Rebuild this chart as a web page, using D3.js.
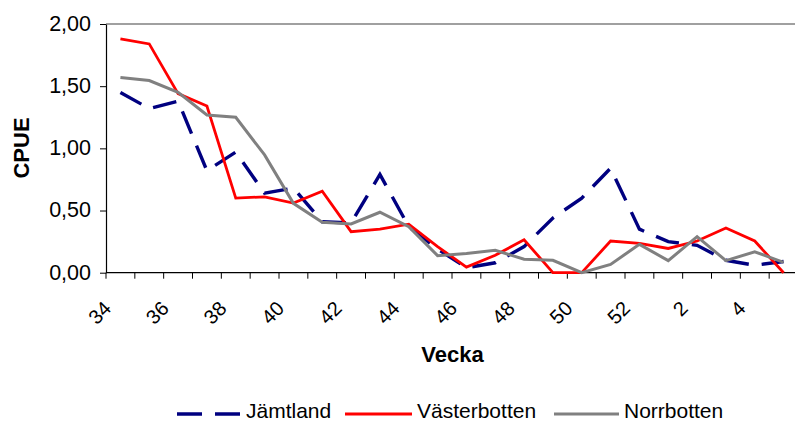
<!DOCTYPE html>
<html>
<head>
<meta charset="utf-8">
<script src="https://cdn.jsdelivr.net/npm/d3@7/dist/d3.min.js"></script>
<style>
  html, body { margin: 0; padding: 0; background: #fff; }
  svg { display: block; font-family: "Liberation Sans", Arial, sans-serif; }
</style>
</head>
<body>
<svg id="chart" width="795" height="423"></svg>
<script>
const weeks = ["34","35","36","37","38","39","40","41","42","43","44","45","46","47","48","49","50","51","52","1","2","3","4","5"];
const tickLabels = ["34","36","38","40","42","44","46","48","50","52","2","4"];
const yTicks = [0, 0.5, 1.0, 1.5, 2.0];
const seriesNames = ["Jämtland", "Västerbotten", "Norrbotten"];
const jamtland = [1.45,1.32,1.38,0.82,0.97,0.64,0.68,0.41,0.40,0.79,0.37,0.19,0.04,0.08,0.21,0.44,0.60,0.84,0.35,0.25,0.22,0.10,0.06,0.09];
const vasterbotten = [1.88,1.84,1.44,1.34,0.60,0.61,0.56,0.655,0.33,0.35,0.39,0.21,0.045,0.14,0.265,0,0,0.255,0.236,0.195,0.255,0.36,0.255,0];
const norrbotten = [1.57,1.545,1.45,1.268,1.25,0.947,0.558,0.405,0.392,0.486,0.37,0.137,0.155,0.18,0.108,0.10,0,0.067,0.228,0.097,0.29,0.097,0.168,0.083];

(function () {
const series = [
  {name: seriesNames[0], values: jamtland, color: "#000080", width: 3.4, dash: "24,13"},
  {name: seriesNames[1], values: vasterbotten, color: "#FF0000", width: 2.8, dash: null},
  {name: seriesNames[2], values: norrbotten, color: "#808080", width: 3, dash: null}
];

const svg = d3.select("#chart");
const pLeft = 106, pRight = 798, pTop = 24, pBottom = 272.7;

const x = d3.scaleBand().domain(weeks).range([pLeft, pRight]).padding(0);
const y = d3.scaleLinear().domain([0, 2]).range([pBottom, pTop]);
const fmt = v => d3.format(".2f")(v).replace(".", ",");

// top border
svg.append("line")
  .attr("x1", pLeft).attr("x2", pRight)
  .attr("y1", y(2)).attr("y2", y(2))
  .attr("stroke", "#808080").attr("stroke-width", 1.5);

// y axis
const yAxis = d3.axisLeft(y).tickValues(yTicks).tickFormat(fmt).tickSize(6).tickSizeOuter(0);
const gy = svg.append("g").attr("transform", `translate(${pLeft},0)`).call(yAxis);
gy.select(".domain").attr("stroke", "#000").attr("stroke-width", 1.2);
gy.selectAll(".tick line").attr("stroke", "#000");
gy.selectAll(".tick text").attr("font-size", 21.5).attr("fill", "#000").attr("dx", -6).attr("dy", "0.3em")
  .style("font-family", "'Liberation Sans', Arial, sans-serif");

// x axis line and boundary ticks
svg.append("line").attr("x1", pLeft).attr("x2", pRight).attr("y1", pBottom).attr("y2", pBottom)
  .attr("stroke", "#000").attr("stroke-width", 1.2);
const boundaries = weeks.map(w => x(w)).concat([x(weeks[weeks.length-1]) + x.bandwidth()]);
svg.append("g").selectAll("line").data(boundaries).join("line")
  .attr("x1", d => d).attr("x2", d => d)
  .attr("y1", pBottom).attr("y2", pBottom + 6)
  .attr("stroke", "#000").attr("stroke-width", 1);

// x tick labels (rotated)
svg.append("g").selectAll("text").data(tickLabels).join("text")
  .attr("transform", d => `translate(${x(d) + x.bandwidth()/2 - 8},${pBottom + 37}) rotate(-45)`)
  .attr("text-anchor", "end")
  .attr("font-size", 20)
  .attr("fill", "#000")
  .text(d => d);

// axis titles
svg.append("text").attr("x", 452.5).attr("y", 362).attr("text-anchor", "middle")
  .attr("font-size", 22).attr("font-weight", "bold").text("Vecka");
svg.append("text").attr("transform", `translate(29,148) rotate(-90)`).attr("text-anchor", "middle")
  .attr("font-size", 22).attr("font-weight", "bold").text("CPUE");

// lines
const line = d3.line()
  .x((d, i) => x(weeks[i]) + x.bandwidth()/2)
  .y(d => y(d));

series.forEach(s => {
  svg.append("path")
    .datum(s.values)
    .attr("d", line)
    .attr("fill", "none")
    .attr("stroke", s.color)
    .attr("stroke-width", s.width)
    .attr("stroke-linejoin", "miter")
    .attr("stroke-dasharray", s.dash);
});

// legend
const legendItems = [
  {x1: 177, x2: 240, tx: 246},
  {x1: 345, x2: 412, tx: 417},
  {x1: 554, x2: 619, tx: 624}
];
series.forEach((s, i) => {
  const L = legendItems[i];
  svg.append("line").attr("x1", L.x1).attr("x2", L.x2).attr("y1", 414).attr("y2", 414)
    .attr("stroke", s.color).attr("stroke-width", s.width)
    .attr("stroke-dasharray", s.dash ? "25,13" : null);
  svg.append("text").attr("x", L.tx).attr("y", 418).attr("font-size", 21).attr("fill", "#000").text(s.name);
});
})();
</script>
</body>
</html>
